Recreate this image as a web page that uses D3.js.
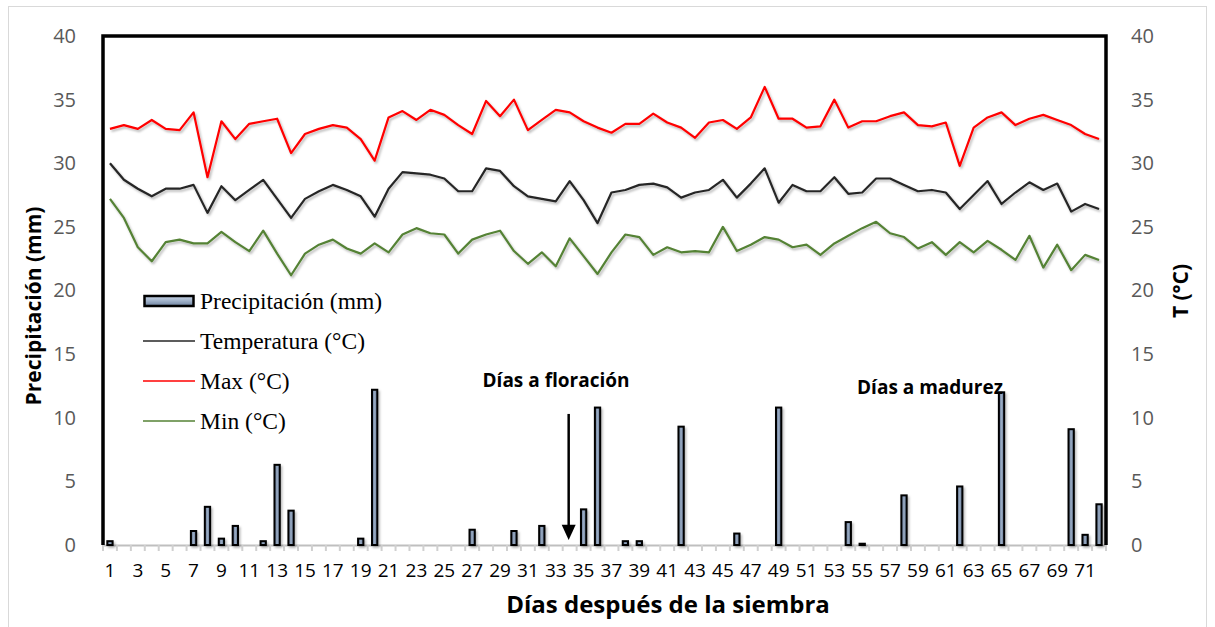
<!DOCTYPE html>
<html>
<head>
<meta charset="UTF-8">
<title>Precipitación y temperatura</title>
<style>
body, html {
	padding: 0;
	margin: 0;
	background: #ffffff;
	overflow: hidden;
}
.tick text {
	font-family: 'Open Sans', sans-serif;
}
</style>
<script src="https://cdn.jsdelivr.net/npm/d3@7"></script>
</head>
<body>
<div id="chart"></div>
<script>
var dias = [1, 2, 3, 4, 5, 6, 7, 8, 9, 10, 11, 12, 13, 14, 15, 16, 17, 18, 19, 20, 21, 22, 23, 24,
	25, 26, 27, 28, 29, 30, 31, 32, 33, 34, 35, 36, 37, 38, 39, 40, 41, 42, 43, 44, 45, 46, 47, 48,
	49, 50, 51, 52, 53, 54, 55, 56, 57, 58, 59, 60, 61, 62, 63, 64, 65, 66, 67, 68, 69, 70, 71, 72];

var precipitacion = [0.3, 0, 0, 0, 0, 0, 1.1, 3.0, 0.5, 1.5, 0, 0.3, 6.3, 2.7, 0, 0, 0, 0, 0.5, 12.2, 0, 0, 0, 0,
	0, 0, 1.2, 0, 0, 1.1, 0, 1.5, 0, 0, 2.8, 10.8, 0, 0.3, 0.3, 0, 0, 9.3, 0, 0, 0, 0.9, 0, 0,
	10.8, 0, 0, 0, 0, 1.8, 0.1, 0, 0, 3.9, 0, 0, 0, 4.6, 0, 0, 12.0, 0, 0, 0, 0, 9.1, 0.8, 3.2];

var temperatura = [30.0, 28.7, 28.0, 27.4, 28.0, 28.0, 28.3, 26.1, 28.2, 27.1, 27.9, 28.7, 27.2, 25.7, 27.2, 27.8, 28.3, 27.9, 27.4, 25.8, 28.0, 29.3, 29.2, 29.1,
	28.8, 27.8, 27.8, 29.6, 29.4, 28.2, 27.4, 27.2, 27.0, 28.6, 27.1, 25.3, 27.7, 27.9, 28.3, 28.4, 28.1, 27.3, 27.7, 27.9, 28.7, 27.3, 28.4, 29.6,
	26.9, 28.3, 27.8, 27.8, 28.9, 27.6, 27.7, 28.8, 28.8, 28.3, 27.8, 27.9, 27.7, 26.4, 27.5, 28.6, 26.8, 27.7, 28.5, 27.9, 28.4, 26.2, 26.8, 26.4];

var tMax = [32.7, 33.0, 32.7, 33.4, 32.7, 32.6, 34.0, 28.9, 33.3, 31.9, 33.1, 33.3, 33.5, 30.8, 32.3, 32.7, 33.0, 32.8, 31.9, 30.2, 33.6, 34.1, 33.4, 34.2,
	33.8, 33.0, 32.3, 34.9, 33.7, 35.0, 32.6, 33.4, 34.2, 34.0, 33.3, 32.8, 32.4, 33.1, 33.1, 33.9, 33.2, 32.8, 32.0, 33.2, 33.4, 32.7, 33.6, 36.0,
	33.5, 33.5, 32.8, 32.9, 35.0, 32.8, 33.3, 33.3, 33.7, 34.0, 33.0, 32.9, 33.2, 29.8, 32.8, 33.6, 34.0, 33.0, 33.5, 33.8, 33.4, 33.0, 32.3, 31.9];

var tMin = [27.2, 25.7, 23.4, 22.3, 23.8, 24.0, 23.7, 23.7, 24.6, 23.8, 23.1, 24.7, 22.9, 21.2, 22.9, 23.6, 24.0, 23.3, 22.9, 23.7, 23.0, 24.4, 24.9, 24.5,
	24.4, 22.9, 24.0, 24.4, 24.7, 23.1, 22.1, 23.0, 21.9, 24.1, 22.7, 21.3, 23.0, 24.4, 24.2, 22.8, 23.4, 23.0, 23.1, 23.0, 25.0, 23.1, 23.6, 24.2,
	24.0, 23.4, 23.6, 22.8, 23.7, 24.3, 24.9, 25.4, 24.5, 24.2, 23.3, 23.8, 22.8, 23.8, 23.0, 23.9, 23.2, 22.4, 24.3, 21.8, 23.6, 21.6, 22.8, 22.4];

var yTicks = [0, 5, 10, 15, 20, 25, 30, 35, 40];

var width = 1215;
var height = 627;
var margin = {top: 36, right: 109, bottom: 82, left: 103};
var plotW = width - margin.left - margin.right;
var plotH = height - margin.top - margin.bottom;

var svg = d3.select("#chart").append("svg").attr("width", width).attr("height", height);

var defs = svg.append("defs");

var shadow = defs.append("filter").attr("id", "shadow").attr("x", "-20%").attr("y", "-20%").attr("width", "140%").attr("height", "140%");
shadow.append("feDropShadow").attr("dx", 1.5).attr("dy", 2).attr("stdDeviation", 1.3).attr("flood-color", "#000000").attr("flood-opacity", 0.28);

var barGrad = defs.append("linearGradient").attr("id", "barGrad").attr("x1", "0").attr("x2", "1").attr("y1", "0").attr("y2", "0");
barGrad.append("stop").attr("offset", "0%").attr("stop-color", "#5d7291");
barGrad.append("stop").attr("offset", "50%").attr("stop-color", "#9aabc2");
barGrad.append("stop").attr("offset", "100%").attr("stop-color", "#5d7291");

var legGrad = defs.append("linearGradient").attr("id", "legGrad").attr("x1", "0").attr("x2", "0").attr("y1", "0").attr("y2", "1");
legGrad.append("stop").attr("offset", "0%").attr("stop-color", "#c9d6e8");
legGrad.append("stop").attr("offset", "45%").attr("stop-color", "#a4b5cc");
legGrad.append("stop").attr("offset", "100%").attr("stop-color", "#6d829f");

// marco exterior gris
svg.append("rect").attr("x", 8.5).attr("y", 6.5).attr("width", 1198).attr("height", 660)
	.attr("fill", "none").attr("stroke", "#d9d9d9").attr("stroke-width", 1);

var g = svg.append("g").attr("transform", "translate(" + margin.left + "," + margin.top + ")");

var x = d3.scaleBand().domain(dias).range([0, plotW]).paddingInner(0).paddingOuter(0);
var yP = d3.scaleLinear().domain([0, 40]).range([plotH, 0]);
var yT = d3.scaleLinear().domain([0, 40]).range([plotH, 0]);

// eje x
var xAxis = d3.axisBottom(x).tickSize(0).tickFormat(function(d) {return d % 2 == 1 ? d : ""});
var gx = g.append("g").attr("transform", "translate(0," + plotH + ")").call(xAxis);
gx.select(".domain").attr("stroke", "#bfbfbf").attr("stroke-width", 2);
gx.selectAll(".tick text").attr("dy", "1.55em").attr("font-size", "19px").attr("fill", "#000000");

g.append("g").selectAll("line").data(dias.concat([73])).enter().append("line")
	.attr("x1", function(d) {return d <= 72 ? x(d) : plotW}).attr("x2", function(d) {return d <= 72 ? x(d) : plotW})
	.attr("y1", plotH).attr("y2", plotH + 6)
	.attr("stroke", "#d0d0d0").attr("stroke-width", 2);

// ejes y
var gyL = g.append("g").attr("transform", "translate(-24,0)").call(d3.axisLeft(yP).tickValues(yTicks).tickSize(0));
gyL.select(".domain").remove();
gyL.selectAll(".tick text").attr("font-size", "20px").attr("fill", "#595959");

var gyR = g.append("g").attr("transform", "translate(" + (plotW + 22) + ",0)").call(d3.axisRight(yT).tickValues(yTicks).tickSize(0));
gyR.select(".domain").remove();
gyR.selectAll(".tick text").attr("font-size", "20px").attr("fill", "#595959");

// barras
var bw = x.bandwidth() * 0.38;
g.append("g").attr("filter", "url(#shadow)").selectAll("rect").data(dias.filter(function(d, i) {return precipitacion[i] > 0})).enter().append("rect")
	.attr("x", function(d) {return x(d) + (x.bandwidth() - bw) / 2})
	.attr("y", function(d) {return yP(precipitacion[d - 1])})
	.attr("width", bw)
	.attr("height", function(d) {return plotH - yP(precipitacion[d - 1])})
	.attr("fill", "url(#barGrad)").attr("stroke", "#000000").attr("stroke-width", 2);

// líneas
function linea(valores, color) {
	var l = d3.line().x(function(d) {return x(d) + x.bandwidth() / 2}).y(function(d) {return yT(valores[d - 1])});
	g.append("path").datum(dias).attr("d", l).attr("fill", "none").attr("stroke", color)
		.attr("stroke-width", 2.2).attr("stroke-linejoin", "round").attr("filter", "url(#shadow)");
}
linea(tMax, "#ff0000");
linea(temperatura, "#262626");
linea(tMin, "#548235");

// marco del área de trazado
g.append("path").attr("d", "M0," + plotH + "V0H" + plotW + "V" + plotH)
	.attr("fill", "none").attr("stroke", "#000000").attr("stroke-width", 3.5);

// leyenda
var leyenda = g.append("g").attr("transform", "translate(40,265)");
var items = [
	{nombre: "Precipitación (mm)", tipo: "bar"},
	{nombre: "Temperatura (°C)", color: "#262626"},
	{nombre: "Max (°C)", color: "#ff0000"},
	{nombre: "Min (°C)", color: "#548235"}
];
items.forEach(function(d, i) {
	var fila = leyenda.append("g").attr("transform", "translate(0," + (i * 40) + ")");
	if (d.tipo == "bar") {
		fila.append("rect").attr("x", 1.5).attr("y", -5).attr("width", 49).attr("height", 10)
			.attr("fill", "url(#legGrad)").attr("stroke", "#000000").attr("stroke-width", 2.5);
	} else {
		fila.append("line").attr("x1", 0).attr("x2", 52).attr("y1", 0).attr("y2", 0)
			.attr("stroke", d.color).attr("stroke-width", 1.5);
	}
	fila.append("text").attr("x", 57).attr("y", 8).text(d.nombre)
		.attr("font-family", "'Liberation Serif', serif").attr("font-size", "23.5px").attr("fill", "#000000");
});

// anotaciones
g.append("text").attr("x", 556 - margin.left).attr("y", yP(12.4)).attr("text-anchor", "middle")
	.attr("font-family", "'Open Sans', sans-serif").attr("font-weight", "bold").attr("font-size", "19px")
	.text("Días a floración");
g.append("text").attr("x", 930 - margin.left).attr("y", yP(11.9)).attr("text-anchor", "middle")
	.attr("font-family", "'Open Sans', sans-serif").attr("font-weight", "bold").attr("font-size", "19px")
	.text("Días a madurez");

var ax = x(34) + x.bandwidth() / 2 - 1;
g.append("line").attr("x1", ax).attr("x2", ax).attr("y1", yP(10.3)).attr("y2", yP(1.4))
	.attr("stroke", "#000000").attr("stroke-width", 2.5);
g.append("path").attr("d", "M" + (ax - 7) + "," + yP(1.6) + "L" + (ax + 7) + "," + yP(1.6) + "L" + ax + "," + yP(0.4) + "Z")
	.attr("fill", "#000000");

// títulos de ejes
svg.append("text").attr("x", 668).attr("y", 613).attr("text-anchor", "middle")
	.attr("font-family", "'Open Sans', sans-serif").attr("font-weight", "bold").attr("font-size", "24px")
	.text("Días después de la siembra");

svg.append("text").attr("transform", "translate(41,306) rotate(-90)").attr("text-anchor", "middle")
	.attr("font-family", "'Open Sans', sans-serif").attr("font-weight", "bold").attr("font-size", "21px")
	.text("Precipitación (mm)");

svg.append("text").attr("transform", "translate(1188,291) rotate(-90)").attr("text-anchor", "middle")
	.attr("font-family", "'Open Sans', sans-serif").attr("font-weight", "bold").attr("font-size", "21px")
	.text("T (°C)");
</script>
</body>
</html>
